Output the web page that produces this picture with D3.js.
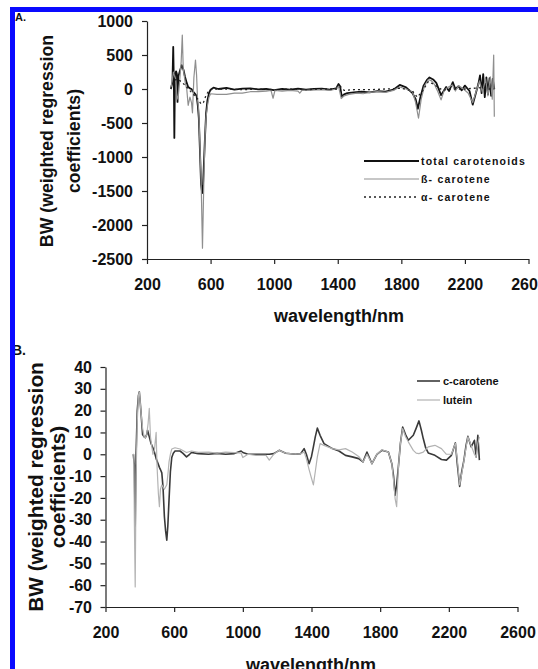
<!DOCTYPE html>
<html>
<head>
<meta charset="utf-8">
<script src="https://cdn.jsdelivr.net/npm/d3@7"></script>
<style>
  body { margin: 0; background: #fff; }
  svg { display: block; font-family: "Liberation Sans", Arial, sans-serif; font-weight: bold; }
</style>
</head>
<body>
<svg></svg>
<script>
var w = 538;
var h = 669;

// axis ticks
var ticksX = [200, 600, 1000, 1400, 1800, 2200, 2600];
var ticksA = [1000, 500, 0, -500, -1000, -1500, -2000, -2500];
var ticksB = [40, 30, 20, 10, 0, -10, -20, -30, -40, -50, -60, -70];

// panel A: total carotenoids
var wlTotal = [350,360,365,369,372,376,383,388,392,397,405,418,430,439,450,459,470,480,494,505,512,520,526,533,540,547,551,558,565,572,580,590,600,618,650,700,750,800,850,900,950,1000,1050,1100,1150,1200,1250,1300,1350,1390,1405,1415,1425,1440,1460,1500,1550,1600,1650,1700,1750,1790,1830,1870,1890,1904,1920,1940,1960,1977,2000,2020,2050,2082,2100,2124,2140,2160,2180,2200,2229,2249,2270,2285,2295,2305,2315,2325,2335,2345,2355,2365,2375,2385];
var valTotal = [0,100,620,100,-720,200,260,220,-190,180,250,350,280,180,90,30,10,0,-50,-80,-100,-250,-430,-900,-1400,-1530,-1500,-1100,-700,-350,-170,-60,-10,20,0,15,-10,5,10,-5,0,-15,0,-10,5,-10,0,5,-10,10,73,40,-110,-80,-60,-50,-40,-50,-30,-40,-10,60,25,-60,-150,-290,-120,50,130,170,140,90,-90,30,-30,100,0,40,-20,50,-30,-230,-50,80,200,-60,220,-120,170,-80,160,-100,150,0];

// panel A: beta-carotene
var wlBeta = [350,360,366,372,380,388,395,405,415,422,428,440,450,459,470,480,486,495,505,512,518,525,531,540,549,558,565,571,580,590,600,640,700,750,800,850,900,950,980,993,1005,1050,1100,1150,1161,1175,1200,1300,1350,1390,1405,1422,1440,1470,1520,1560,1600,1650,1700,1750,1790,1830,1870,1890,1908,1925,1945,1970,1990,2010,2030,2050,2070,2090,2120,2140,2160,2190,2220,2249,2270,2292,2310,2330,2345,2360,2372,2381,2385];
var valBeta = [0,150,250,200,150,-100,-150,100,400,794,300,100,0,-240,-120,-200,-350,170,426,200,-150,-300,-700,-1300,-2340,-1300,-700,-430,-250,-120,-70,-80,-80,-60,-60,-40,-40,-30,-20,-136,-20,-30,-20,-30,-60,-20,-20,-10,-20,0,40,-140,-100,-80,-60,-70,-50,-40,-50,-20,30,0,-40,-200,-430,-150,40,140,120,60,-40,-160,-20,20,60,-30,50,0,-60,-200,-40,120,-50,150,-100,180,-150,500,-407];

// panel A: alpha-carotene
var wlAlpha = [350,370,390,420,450,480,500,520,540,555,570,590,620,700,800,900,1000,1100,1200,1300,1400,1420,1440,1500,1600,1700,1800,1870,1900,1930,1970,2010,2060,2100,2200,2300,2350,2385];
var valAlpha = [0,120,150,100,30,-50,-100,-150,-220,-200,-100,-20,0,0,-10,0,-10,0,-10,0,0,30,-20,-10,-10,0,10,-30,-120,-40,110,60,-20,0,0,20,0,0];

// panel B: c-carotene
var wlCCar = [362,368,373,378,385,392,397,402,407,416,425,432,440,445,455,465,476,485,495,505,514,520,528,535,543,550,557,563,570,578,586,595,605,620,634,650,672,690,701,740,800,850,900,950,990,1000,1030,1077,1135,1154,1180,1212,1250,1308,1337,1357,1370,1386,1400,1411,1422,1434,1450,1473,1521,1560,1598,1637,1675,1700,1723,1752,1781,1810,1848,1868,1878,1887,1896,1906,1918,1931,1948,1964,1993,2010,2026,2040,2051,2065,2080,2119,2157,2186,2215,2238,2250,2263,2275,2288,2300,2311,2330,2349,2359,2369,2378];
var valCCar = [0,-5,-33,0,20,27,28.6,24,19,9,8,7.6,9,11,8,5,3,1,-2,-4,-6,-7,-8.5,-15,-28.5,-35,-39.4,-33,-21,-8,-1.5,0.5,1.5,1.5,1.5,0.5,-1.2,0,0.8,0.3,0,0.4,0,0.3,1.5,0.8,0,0,0,0,0.3,1.8,0.5,0,0.3,2.6,0,-4.3,-1,3.4,8,12,8.7,4.9,2.6,1.5,-0.5,-1.2,-2,-3.5,1,-4.3,0,1.8,1,-4.3,-10,-18.8,-14,-5.8,5,12.5,9,6.4,8.7,12,15.3,11,7.2,3,0.6,-0.5,-2.4,-2.7,-0.5,5.2,-5,-14.7,-8,-2.7,4,8.2,3.4,6.4,-1.2,8.7,-2.7];

// panel B: lutein
var wlLutein = [360,365,368,373,378,385,392,397,402,407,416,425,432,440,448,455,462,476,485,490,495,500,508,514,520,528,543,557,565,570,578,586,605,634,672,701,740,800,850,900,950,990,1000,1030,1077,1135,1154,1180,1212,1250,1308,1337,1357,1370,1386,1400,1411,1422,1434,1450,1473,1521,1560,1598,1637,1675,1700,1723,1752,1781,1810,1848,1868,1878,1887,1896,1906,1918,1931,1948,1964,1993,2010,2026,2051,2080,2119,2157,2186,2215,2238,2250,2263,2275,2288,2300,2311,2330,2349,2359,2369,2378];
var valLutein = [0,0,-30,-60.8,-10,15,27,28.6,24,19,12,8,7.6,9,14,21,8,0,2,6,10,-5,-18,-24,-16,-14,-16,-14,-8,-3.5,0,2.4,3,2.4,0.8,1.5,0.9,1,0.5,1,0.8,0.5,-1.5,0,-0.5,-0.5,-2.7,0,1.8,0.5,0,0.3,1,-2,-7,-11,-14,-8,-1.2,4.9,4.1,2.6,2,2.6,1,-1,-3.5,0,-4.3,0,2.1,1,-4.3,-12,-20.3,-24,-6,5,11.8,8,5.7,1.8,0.5,0.3,1,3.4,4.1,2.6,0,0,5,-3,-14,-9,-3,3,8,4,0,-1.2,5,8];

var svg = d3.select("svg")
    .attr("width", w)
    .attr("height", h);

// plain numbers, hyphen minus, no thousands comma
var fmt = function(d) { return String(d); };

function pairs(xs, ys) {
    return xs.map(function(d, i) { return [d, ys[i]]; });
}

function drawPanel(p) {
    var xScale = d3.scaleLinear().domain([200, 2600]).range(p.xRange);
    var yScale = d3.scaleLinear().domain(p.yDomain).range(p.yRange);
    var g = svg.append("g");

    var xAxis = d3.axisBottom(xScale).tickValues(ticksX).tickFormat(fmt)
        .tickSize(5).tickSizeOuter(0).tickPadding(p.xPad);
    var gx = g.append("g")
        .attr("transform", "translate(0," + p.yRange[0] + ")")
        .call(xAxis);
    var yAxis = d3.axisLeft(yScale).tickValues(p.ticks).tickFormat(fmt)
        .tickSize(5).tickSizeOuter(0).tickPadding(p.yPad);
    var gy = g.append("g")
        .attr("transform", "translate(" + p.xRange[0] + ",0)")
        .call(yAxis);
    [gx, gy].forEach(function(a) {
        a.selectAll("path, line").attr("stroke", "#222").attr("stroke-width", 1.2);
        a.selectAll("text")
            .attr("fill", "#111")
            .style("font-size", p.tickFont + "px")
            .style("font-weight", "bold")
            .style("font-family", "'Liberation Sans', Arial, sans-serif");
    });

    var line = d3.line()
        .x(function(d) { return xScale(d[0]); })
        .y(function(d) { return yScale(d[1]); });

    p.series.forEach(function(s) {
        g.append("path")
            .attr("d", line(pairs(s.wl, s.val)))
            .attr("fill", "none")
            .attr("stroke", s.color)
            .attr("stroke-width", s.width)
            .attr("stroke-dasharray", s.dash || null)
            .attr("stroke-linejoin", "round");
    });

    // legend
    p.series.forEach(function(s, i) {
        var ly = p.legend.y + i * p.legend.step;
        g.append("line")
            .attr("x1", p.legend.x1).attr("x2", p.legend.x2)
            .attr("y1", ly).attr("y2", ly)
            .attr("stroke", s.color)
            .attr("stroke-width", s.width)
            .attr("stroke-dasharray", s.dash || null);
        g.append("text")
            .attr("x", p.legend.tx)
            .attr("y", ly + p.legend.font * 0.36)
            .style("font-size", p.legend.font + "px")
            .style("letter-spacing", p.legend.spacing + "px")
            .attr("fill", "#111")
            .text(s.name);
    });

    // y-axis title, two lines
    p.yTitle.forEach(function(t, i) {
        g.append("text")
            .attr("text-anchor", "middle")
            .attr("transform", "translate(" + p.yTitleX[i] + "," + p.yTitleY + ") rotate(-90)")
            .style("font-size", p.yTitleFont + "px")
            .attr("fill", "#111")
            .text(t);
    });

    // x-axis title
    g.append("text")
        .attr("text-anchor", "middle")
        .attr("x", p.xTitle[0])
        .attr("y", p.xTitle[1])
        .style("font-size", "18px")
        .attr("fill", "#111")
        .text("wavelength/nm");

    g.append("text")
        .attr("x", p.tag[0])
        .attr("y", p.tag[1])
        .style("font-size", p.tag[2] + "px")
        .attr("fill", "#111")
        .text(p.tag[3]);
}

drawPanel({
    xRange: [147, 528.5],
    yDomain: [-2500, 1000],
    yRange: [259, 21],
    ticks: ticksA,
    xPad: 15,
    yPad: 9,
    tickFont: 16,
    series: [
        { name: "total carotenoids", wl: wlTotal, val: valTotal, color: "#111", width: 1.8 },
        { name: "ß- carotene", wl: wlBeta, val: valBeta, color: "#8f8f8f", width: 1.2 },
        { name: "α- carotene", wl: wlAlpha, val: valAlpha, color: "#222", width: 1.3, dash: "2,3" }
    ],
    legend: { x1: 364, x2: 419, tx: 421, y: 161, step: 18, font: 10.5, spacing: 1.2 },
    yTitle: ["BW (weighted regression", "coefficients)"],
    yTitleX: [53, 80],
    yTitleY: 141,
    yTitleFont: 17.7,
    xTitle: [339, 322],
    tag: [15, 21, 11, "A."]
});

drawPanel({
    xRange: [105.5, 517.5],
    yDomain: [-70, 40],
    yRange: [607, 367],
    ticks: ticksB,
    xPad: 15,
    yPad: 8.5,
    tickFont: 16,
    series: [
        { name: "c-carotene", wl: wlCCar, val: valCCar, color: "#3a3a3a", width: 1.6 },
        { name: "lutein", wl: wlLutein, val: valLutein, color: "#b3b3b3", width: 1.2 }
    ],
    legend: { x1: 417, x2: 440, tx: 443, y: 381, step: 19, font: 11, spacing: 0 },
    yTitle: ["BW (weighted regression", "coefficients)"],
    yTitleX: [43, 65],
    yTitleY: 487,
    yTitleFont: 20.8,
    xTitle: [311, 671],
    tag: [12, 355, 14, "B."]
});

// blue frame on the top and left edges
svg.append("rect").attr("x", 10).attr("y", 7).attr("width", w - 10).attr("height", 5).attr("fill", "#0a0aff");
svg.append("rect").attr("x", 10).attr("y", 7).attr("width", 5).attr("height", h - 7).attr("fill", "#0a0aff");
</script>
</body>
</html>
